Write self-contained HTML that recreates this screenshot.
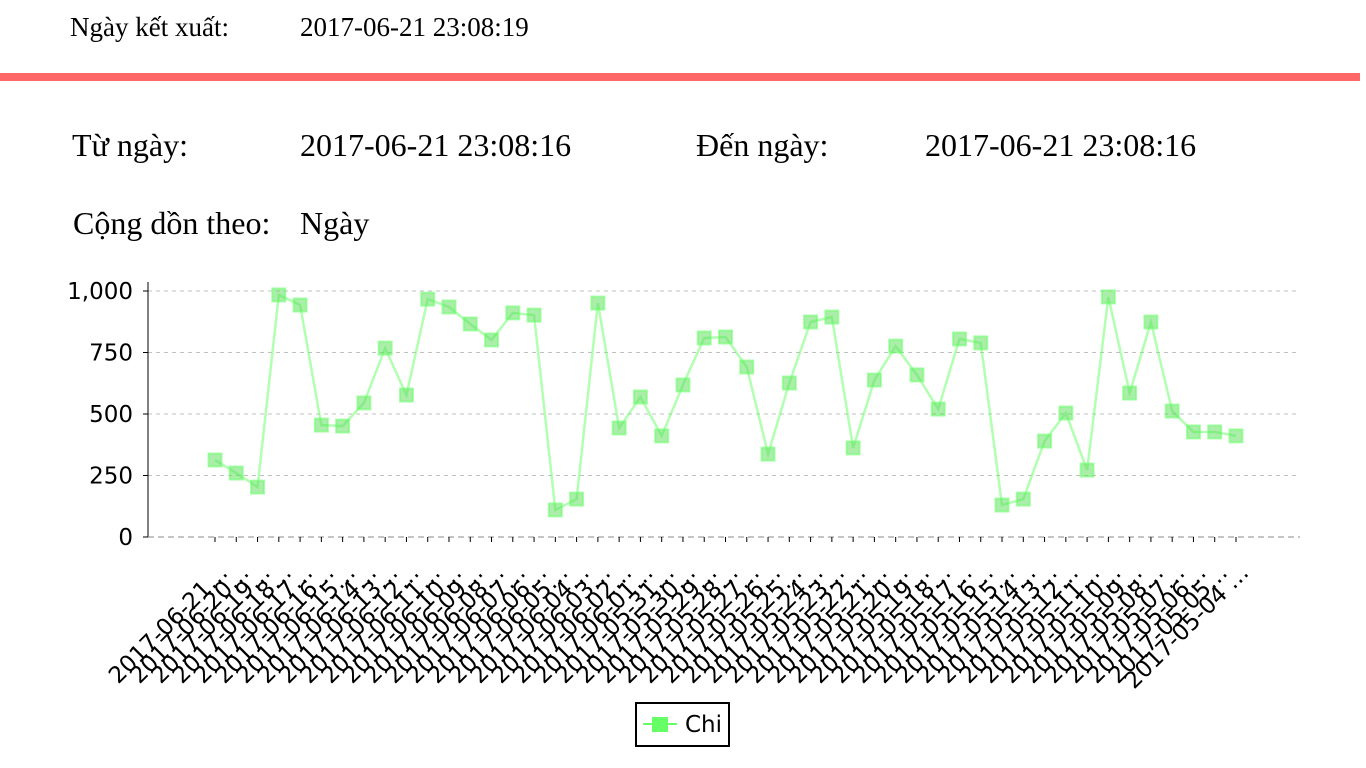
<!DOCTYPE html>
<html><head><meta charset="utf-8"><style>
html,body{margin:0;padding:0;background:#fff;width:1366px;height:768px;overflow:hidden;position:relative}
.t{position:absolute;font-family:"Liberation Serif",serif;color:#000;white-space:nowrap}
</style></head><body>
<div class="t" style="left:70px;top:12px;font-size:27px">Ngày kết xuất:</div>
<div class="t" style="left:300px;top:12px;font-size:27px">2017-06-21 23:08:19</div>
<div style="position:absolute;left:0;top:73px;width:1360px;height:8px;background:#ff6666"></div>
<div class="t" style="left:72px;top:127px;font-size:32px">Từ ngày:</div>
<div class="t" style="left:300px;top:127px;font-size:32px">2017-06-21 23:08:16</div>
<div class="t" style="left:696px;top:127px;font-size:32px">Đến ngày:</div>
<div class="t" style="left:925px;top:127px;font-size:32px">2017-06-21 23:08:16</div>
<div class="t" style="left:73px;top:205px;font-size:32px">Cộng dồn theo:</div>
<div class="t" style="left:300px;top:205px;font-size:32px">Ngày</div>
<svg id="chart" width="1366" height="768" style="position:absolute;left:0;top:0" xmlns="http://www.w3.org/2000/svg"></svg>
<script>
const categories=["2017-06-21","2017-06-20","2017-06-19","2017-06-18","2017-06-17","2017-06-16","2017-06-15","2017-06-14","2017-06-13","2017-06-12","2017-06-11","2017-06-10","2017-06-09","2017-06-08","2017-06-07","2017-06-06","2017-06-05","2017-06-04","2017-06-03","2017-06-02","2017-06-01","2017-05-31","2017-05-30","2017-05-29","2017-05-28","2017-05-27","2017-05-26","2017-05-25","2017-05-24","2017-05-23","2017-05-22","2017-05-21","2017-05-20","2017-05-19","2017-05-18","2017-05-17","2017-05-16","2017-05-15","2017-05-14","2017-05-13","2017-05-12","2017-05-11","2017-05-10","2017-05-09","2017-05-08","2017-05-07","2017-05-06","2017-05-05","2017-05-04"];
const chiValues=[313,260,203,984,943,455,451,545,768,577,967,935,866,801,911,902,110,154,951,443,569,411,618,809,813,691,337,626,874,894,362,638,776,659,520,805,789,130,154,390,504,272,976,585,874,512,427,427,411];
const yTicks=[0,250,500,750,1000];
const yTickLabels=["0","250","500","750","1,000"];
const svg=document.getElementById('chart');
const NS='http://www.w3.org/2000/svg';
const L=148,R=1300,Y0=537,Y1=291,X0=215,X1=1236;
const yScale=v=>Y0-(v/1000)*(Y0-Y1);
const xScale=i=>X0+i*(X1-X0)/(categories.length-1);
function mk(tag,attrs){const e=document.createElementNS(NS,tag);for(const k in attrs)e.setAttribute(k,attrs[k]);svg.appendChild(e);return e;}
yTicks.forEach((v,i)=>{
  const y=yScale(v);
  if(v>0){const g=mk('line',{x1:L,x2:R,y1:y,y2:y,stroke:'#c0c0c0','stroke-dasharray':'4,4'});
  
  }
  const tk=mk('line',{x1:L-5,x2:L,y1:y,y2:y,stroke:'#000'});
  
  
  const t=mk('text',{x:L-15,y:y+8,'text-anchor':'end','font-family':'DejaVu Sans, sans-serif','font-size':'23'});
  t.textContent=yTickLabels[i];
  
  
});
const ya=mk('line',{x1:L,x2:L,y1:282,y2:Y0,stroke:'#000'});


const xa=mk('line',{x1:L,x2:R,y1:Y0,y2:Y0,stroke:'#888','stroke-dasharray':'6,4'});


categories.forEach((c,i)=>{
  const x=xScale(i);
  const tk=mk('line',{x1:x,x2:x,y1:Y0,y2:Y0+5,stroke:'#000'});
  
  
  const t=mk('text',{x:x+14,y:574,'text-anchor':'end','font-family':'DejaVu Sans, sans-serif','font-size':'23',transform:`rotate(-45 ${x+14} 574)`});
  t.textContent=c+(i===categories.length-1?' …':'…');
  
  
});
const pts=chiValues.map((v,i)=>xScale(i)+','+yScale(v)).join(' ');
const line=mk('polyline',{points:pts,fill:'none',stroke:'#66ff66','stroke-opacity':'0.5','stroke-width':'2.5'});


chiValues.forEach((v,i)=>{
  const r=mk('rect',{x:xScale(i)-6.5,y:yScale(v)-6.5,width:13,height:13,fill:'#55dd55','fill-opacity':'0.5',stroke:'#66ff66','stroke-opacity':'0.55','stroke-width':'2'});
  
  
});
const lg=mk('rect',{x:636,y:703,width:93,height:43,fill:'#fff',stroke:'#000','stroke-width':'2'});


const ll=mk('line',{x1:643,x2:677,y1:724,y2:724,stroke:'#66ff66','stroke-width':'2'});


const lm=mk('rect',{x:652,y:717,width:16,height:15,fill:'#66ff66'});


const lt=mk('text',{x:685,y:732,'font-family':'DejaVu Sans, sans-serif','font-size':'23'});
lt.textContent='Chi';


</script>
</body></html>
